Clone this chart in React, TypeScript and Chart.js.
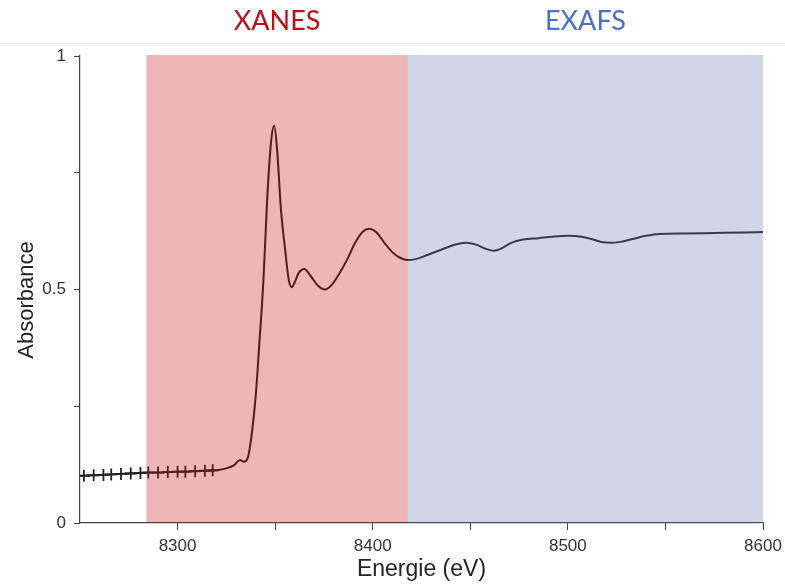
import React, { useEffect, useRef } from "react";
import { Chart, registerables } from "chart.js";

Chart.register(...registerables);

// ---- data ----
const energy = [
  8250, 8255, 8260, 8265, 8270, 8275, 8280, 8285, 8290, 8295, 8300, 8305, 8310, 8315, 8320,
  8325, 8329, 8332, 8334, 8336, 8338, 8340, 8342, 8344, 8346, 8348, 8349.5, 8351, 8353, 8355,
  8357, 8358.5, 8360, 8362, 8365, 8368, 8372, 8375.5, 8379, 8383, 8387, 8391, 8395, 8398,
  8402, 8406, 8410, 8414, 8418, 8422, 8428, 8435, 8442, 8448, 8453, 8458, 8462, 8466, 8471,
  8477, 8485, 8492, 8500, 8507, 8513, 8518, 8522, 8527, 8533, 8540, 8547, 8560, 8575, 8590, 8600,
];
const absorbance = [
  0.101, 0.102, 0.103, 0.104, 0.105, 0.106, 0.107, 0.108, 0.108, 0.109, 0.11, 0.11, 0.111, 0.112, 0.113,
  0.117, 0.124, 0.135, 0.131, 0.14, 0.19, 0.27, 0.39, 0.52, 0.7, 0.82, 0.851, 0.8, 0.67, 0.59,
  0.52, 0.505, 0.515, 0.535, 0.544, 0.53, 0.508, 0.5, 0.51, 0.535, 0.565, 0.6, 0.624, 0.63,
  0.622, 0.6, 0.58, 0.568, 0.563, 0.565, 0.574, 0.585, 0.596, 0.6, 0.596, 0.587, 0.583, 0.588, 0.6,
  0.607, 0.61, 0.613, 0.615, 0.613, 0.607, 0.601, 0.6, 0.602, 0.608, 0.615, 0.619, 0.62, 0.621, 0.622, 0.623,
];
const markerEnergy = [8252, 8257, 8262, 8266, 8271, 8276, 8281, 8285, 8290, 8295, 8300, 8304, 8309, 8314, 8318];
const markerAbsorbance = [0.101, 0.102, 0.103, 0.104, 0.105, 0.106, 0.107, 0.108, 0.108, 0.109, 0.11, 0.11, 0.111, 0.112, 0.113];

const xTickValues = [8300, 8350, 8400, 8450, 8500, 8550, 8600];
const xTickLabels = ["8300", "", "8400", "", "8500", "", "8600"];
const yTickValues = [0, 0.25, 0.5, 0.75, 1];
const yTickLabels = ["0", "", "0.5", "", "1"];

const regionNames = ["XANES", "EXAFS"];
const regionStart = [8284, 8418];
const regionEnd = [8418, 8600];
const regionFill = ["rgba(195,12,18,0.3)", "rgba(98,118,172,0.3)"];
const regionTextColor = ["#BE0F19", "#4A72C4"];

const xTitle = "Energie (eV)";
const yTitle = "Absorbance";

const FONT = "'Liberation Sans', Arial, sans-serif";

const regionsPlugin = {
  id: "regions",
  beforeDraw(chart: any) {
    const ctx = chart.ctx;
    ctx.save();
    ctx.fillStyle = "#ffffff";
    ctx.fillRect(0, 0, chart.width, chart.height);
    ctx.strokeStyle = "#ececec";
    ctx.lineWidth = 1;
    ctx.beginPath();
    ctx.moveTo(0, 43.5);
    ctx.lineTo(chart.width, 43.5);
    ctx.stroke();
    ctx.restore();
  },
  afterDatasetsDraw(chart: any) {
    const { ctx, scales } = chart;
    const x = scales.x;
    const y = scales.y;
    const top = y.getPixelForValue(1) - 1;
    const bottom = y.getPixelForValue(0) - 0.5;
    ctx.save();
    for (let i = 0; i < regionNames.length; i++) {
      const x0 = x.getPixelForValue(regionStart[i]);
      const x1 = x.getPixelForValue(regionEnd[i]);
      ctx.fillStyle = regionFill[i];
      ctx.fillRect(x0, top, x1 - x0, bottom - top);
      ctx.fillStyle = regionTextColor[i];
      ctx.font = "27px Lato, 'Open Sans', sans-serif";
      ctx.textAlign = "center";
      ctx.textBaseline = "alphabetic";
      ctx.fillText(regionNames[i], (x0 + x1) / 2, 29.5);
    }
    // y-axis title
    ctx.translate(27, 300);
    ctx.rotate(-Math.PI / 2);
    ctx.fillStyle = "#222";
    ctx.font = "22px " + FONT;
    ctx.textAlign = "center";
    ctx.textBaseline = "middle";
    ctx.fillText(yTitle, 0, 0);
    ctx.restore();
  },
};

export default function App() {
  const ref = useRef<HTMLCanvasElement | null>(null);

  useEffect(() => {
    if (!ref.current) return;
    const chart = new Chart(ref.current, {
      type: "line",
      data: {
        datasets: [
          {
            type: "line",
            label: "Absorbance",
            data: energy.map((e, i) => ({ x: e, y: absorbance[i] })),
            borderColor: "#232323",
            borderWidth: 2,
            pointRadius: 0,
            cubicInterpolationMode: "monotone",
            fill: false,
          },
          {
            type: "scatter",
            label: "points",
            data: markerEnergy.map((e, i) => ({ x: e, y: markerAbsorbance[i] })),
            pointStyle: "cross",
            pointRadius: 6,
            borderColor: "#232323",
            backgroundColor: "#232323",
            borderWidth: 1.8,
            showLine: false,
          } as any,
        ],
      },
      plugins: [regionsPlugin],
      options: {
        animation: false,
        responsive: false,
        devicePixelRatio: 1,
        layout: { padding: { top: 56, right: 22, left: 0, bottom: 0 } },
        plugins: { legend: { display: false }, tooltip: { enabled: false } },
        scales: {
          x: {
            type: "linear",
            min: 8250,
            max: 8600,
            afterBuildTicks: (scale: any) => {
              scale.ticks = xTickValues.map((v) => ({ value: v }));
            },
            afterFit: (scale: any) => {
              scale.height = 62;
              scale.paddingRight = 0;
              scale.paddingLeft = 0;
            },
            ticks: {
              autoSkip: false,
              maxRotation: 0,
              padding: 6,
              color: "#333",
              font: { family: FONT, size: 17 },
              callback: (v: any) => {
                const i = xTickValues.indexOf(Number(v));
                return i >= 0 ? xTickLabels[i] : "";
              },
            },
            grid: { drawOnChartArea: false, drawTicks: true, tickLength: 7, color: "#444", lineWidth: 1 },
            border: { display: true, color: "#444", width: 1.2 },
            title: {
              display: true,
              text: xTitle,
              color: "#222",
              font: { family: FONT, size: 23 },
              padding: { top: 0, bottom: 2 },
            },
          },
          y: {
            type: "linear",
            min: 0,
            max: 1,
            afterBuildTicks: (scale: any) => {
              scale.ticks = yTickValues.map((v) => ({ value: v }));
            },
            afterFit: (scale: any) => {
              scale.width = 80;
              scale.paddingTop = 0;
              scale.paddingBottom = 0;
            },
            ticks: {
              autoSkip: false,
              padding: 8,
              color: "#333",
              font: { family: FONT, size: 17 },
              callback: (v: any) => {
                const i = yTickValues.indexOf(Number(v));
                return i >= 0 ? yTickLabels[i] : "";
              },
            },
            grid: { drawOnChartArea: false, drawTicks: true, tickLength: 6, color: "#444", lineWidth: 1 },
            border: { display: true, color: "#444", width: 1.2 },
          },
        },
      } as any,
    });
    return () => chart.destroy();
  }, []);

  return (
    <div style={{ position: "absolute", left: 0, top: 0, width: 785, height: 585, background: "#fff" }}>
      <canvas ref={ref} width={785} height={585} />
    </div>
  );
}
